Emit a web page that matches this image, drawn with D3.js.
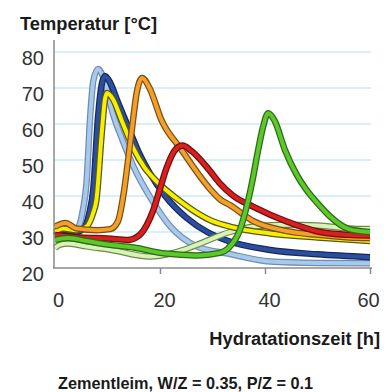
<!DOCTYPE html>
<html><head><meta charset="utf-8">
<script src="https://cdn.jsdelivr.net/npm/d3@7"></script>
<style>body{margin:0;background:#fff}svg{display:block;font-family:"Liberation Sans",Arial,sans-serif}</style>
</head><body>
<svg id="c" width="389" height="392"></svg>
<script>
// ---- data ----
const yTicks = [20, 30, 40, 50, 60, 70, 80];
const xTicks = [0, 20, 40, 60];
const gridValues = [30, 40, 50, 60, 70, 80];

const lightBlueT = [0, 1.5, 3, 4.5, 5.3, 6, 6.7, 7.3, 8.2, 9.2, 11, 13, 15, 18.4, 22, 27, 33, 41, 50, 60];
const lightBlueV = [29.5, 30.5, 30, 31.5, 36, 43.6, 62, 72, 75.3, 73, 63, 55, 48, 39, 31.5, 26, 24, 21.8, 21.4, 21.3];

const darkBlueT = [0, 1.5, 4, 5.5, 6.5, 7.3, 8.2, 8.9, 9.5, 10.5, 12, 13.7, 16, 18, 21, 25, 29, 33, 41, 50, 60];
const darkBlueV = [29, 30.5, 30, 31, 35, 42, 62, 71, 73.3, 71.5, 66, 60, 52, 46.5, 40, 34, 30, 27.5, 25, 23.8, 23];

const yellowT = [0, 1.5, 4, 6, 7.2, 7.9, 8.9, 9.5, 9.9, 11, 12.7, 15, 17, 19.4, 23, 26.3, 30, 33.3, 41, 50, 60];
const yellowV = [30, 31, 30.5, 31.5, 35, 39, 57.4, 66.7, 68.6, 67, 61, 53, 48, 44, 39.5, 36, 33, 31.5, 29.6, 28.5, 27.5];

const orangeT = [0, 2, 4, 8, 10.5, 12, 13, 14.6, 15.6, 16.6, 18, 20.3, 24, 29.5, 31.5, 33.3, 37.8, 44, 50, 56, 60];
const orangeV = [31.5, 32.5, 31, 30.5, 30.8, 33, 40, 58, 69, 72.8, 70, 61, 53, 42, 39, 37.5, 33, 30.3, 29.2, 28.5, 28.3];

const redT = [0, 5, 10, 14, 16, 17.5, 18.7, 20, 21.3, 23, 24.3, 26, 29.5, 31.4, 34, 37.8, 44, 50.5, 56, 60];
const redV = [29.2, 28.5, 28.2, 27.8, 29, 32, 36, 42, 48, 53, 54, 52.5, 47, 43.5, 40, 37, 33, 30, 29.2, 29];

const greenT = [0, 2.5, 6, 10, 15, 21, 27, 31.4, 33, 35.2, 36.5, 37.5, 38.7, 39.6, 40.6, 41.8, 43.8, 46, 47.9, 50, 52.4, 56, 60];
const greenV = [27.8, 28.3, 27.5, 26.5, 25.7, 24, 23.5, 24.2, 25.5, 30.5, 37, 43.5, 52.8, 59, 63, 61, 52.8, 46, 41.7, 38, 34.3, 30.8, 30];

const lightGreenT = [0, 1, 2.5, 6, 10.8, 18, 22, 24.4, 28, 33.3, 38, 44, 50, 56, 60];
const lightGreenV = [25.6, 26.5, 26.8, 26, 25, 23.2, 24, 25, 27, 30, 31.5, 32, 31.8, 31, 30.8];

const series = [
  {name: "lightBlue",  t: lightBlueT,  v: lightBlueV,  fill: "#a9c9ec", edge: "#6f8db3"},
  {name: "darkBlue",   t: darkBlueT,   v: darkBlueV,   fill: "#2b4f9e", edge: "#18285a"},
  {name: "lightGreen", t: lightGreenT, v: lightGreenV, fill: "#d9f2b8", edge: "#6c8a4a"},
  {name: "yellow",     t: yellowT,     v: yellowV,     fill: "#f6f000", edge: "#5a5520"},
  {name: "orange",     t: orangeT,     v: orangeV,     fill: "#f2a02a", edge: "#7a4e12"},
  {name: "red",        t: redT,        v: redV,        fill: "#da1f1f", edge: "#6a1010"},
  {name: "green",      t: greenT,      v: greenV,      fill: "#5cc82c", edge: "#2d6a12"}
];

// ---- drawing ----
const svg = d3.select("#c");
const x = d3.scaleLinear().domain([0, 60]).range([55, 370]);
const y = d3.scaleLinear().domain([20, 80]).range([268, 52]);

// grid
svg.append("g").selectAll("line").data(gridValues).join("line")
  .attr("x1", 54).attr("x2", 371)
  .attr("y1", d => y(d)).attr("y2", d => y(d))
  .attr("stroke", "#c4eef4").attr("stroke-width", 1.6);

// curves
const line = d3.line().x(d => x(d[0])).y(d => y(d[1])).curve(d3.curveMonotoneX);
const cg = svg.append("g");
series.forEach(s => {
  const pts = s.t.map((t, i) => [t, s.v[i]]);
  cg.append("path").attr("d", line(pts)).attr("fill", "none")
    .attr("stroke", s.edge).attr("stroke-width", 6.5).attr("stroke-linejoin", "round");
  cg.append("path").attr("d", line(pts)).attr("fill", "none")
    .attr("stroke", s.fill).attr("stroke-width", 4).attr("stroke-linejoin", "round");
});

// axes
svg.append("line").attr("x1", 54).attr("x2", 54).attr("y1", 40).attr("y2", 268)
  .attr("stroke", "#8a8a8a").attr("stroke-width", 1.5);

const xAxis = svg.append("g").attr("transform", "translate(0,268)")
  .call(d3.axisBottom(x).tickValues(xTicks).tickSize(6).tickPadding(19).tickFormat(d3.format("d")));
xAxis.select(".domain").attr("d", "M53,0H372").attr("stroke", "#8a8a8a").attr("stroke-width", 1.5);
xAxis.selectAll(".tick line").attr("stroke", "#8a8a8a").attr("stroke-width", 1.5);
xAxis.selectAll(".tick").filter(d => d === 0).select("line").remove();
xAxis.selectAll(".tick text").attr("font-size", 20).attr("fill", "#333")
  .attr("font-family", "Liberation Sans, Arial, sans-serif")
  .attr("dx", d => d === 0 ? 3 : (d === 60 ? -2 : 4));

const yAxis = svg.append("g").attr("transform", "translate(54,0)")
  .call(d3.axisLeft(y).tickValues(yTicks).tickSize(0).tickPadding(10).tickFormat(d3.format("d")));
yAxis.select(".domain").remove();
yAxis.selectAll(".tick text").attr("font-size", 20).attr("fill", "#333")
  .attr("font-family", "Liberation Sans, Arial, sans-serif")
  .attr("dy", "0.6em");

// titles
svg.append("text").attr("x", 20).attr("y", 30).attr("font-size", 18.3).attr("font-weight", "bold")
  .attr("fill", "#1a1a1a").text("Temperatur [°C]");
svg.append("text").attr("x", 380).attr("y", 345).attr("text-anchor", "end").attr("font-size", 18.3)
  .attr("font-weight", "bold").attr("fill", "#1a1a1a").text("Hydratationszeit [h]");
svg.append("text").attr("x", 58).attr("y", 389).attr("font-size", 16.3).attr("font-weight", "bold")
  .attr("fill", "#1a1a1a").text("Zementleim, W/Z = 0.35, P/Z = 0.1");
</script>
</body></html>
